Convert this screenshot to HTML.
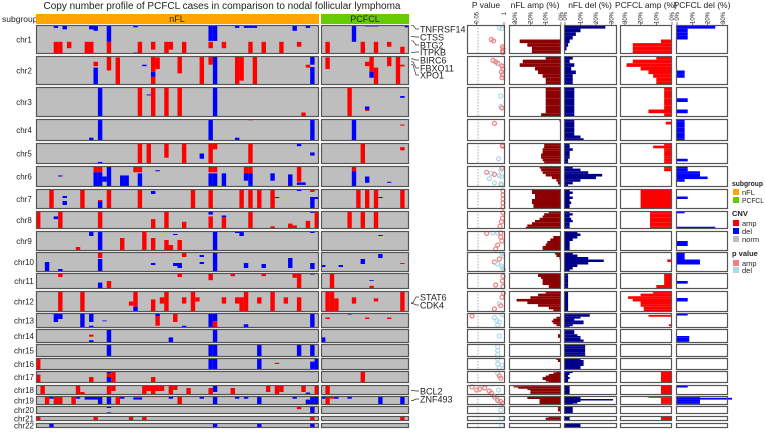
<!DOCTYPE html>
<html><head><meta charset="utf-8"><style>
html,body{margin:0;padding:0;background:#fff;}
svg{display:block;font-family:"Liberation Sans",sans-serif;}
</style></head><body>
<svg id="chart" width="765" height="432" viewBox="0 0 765 432" xmlns="http://www.w3.org/2000/svg">
<text x="222" y="9" font-size="10" text-anchor="middle" fill="#222">Copy number profile of PCFCL cases in comparison to nodal follicular lymphoma</text>
<text x="2" y="22" font-size="8.5" fill="#222">subgroup</text>
<rect x="36" y="14" width="283" height="10" fill="#FFA500"/>
<text x="177" y="22" font-size="9" text-anchor="middle" fill="#222">nFL</text>
<rect x="321" y="14" width="88" height="10" fill="#66CC00"/>
<text x="365" y="22" font-size="9" text-anchor="middle" fill="#222">PCFCL</text>
<g id="heat"></g><g id="side"></g><g id="genes"></g>
<g font-size="7.5" fill="#222">
<text x="732" y="186" font-weight="bold" textLength="31" lengthAdjust="spacingAndGlyphs">subgroup</text>
<rect x="733" y="189" width="6" height="6" fill="#FFA500"/><text x="742" y="195">nFL</text>
<rect x="733" y="197" width="6" height="6" fill="#66CC00"/><text x="742" y="203" textLength="22" lengthAdjust="spacingAndGlyphs">PCFCL</text>
<text x="732" y="216" font-weight="bold">CNV</text>
<rect x="733" y="220" width="6" height="6" fill="#FF0000"/><text x="742" y="226">amp</text>
<rect x="733" y="228" width="6" height="6" fill="#0000FF"/><text x="742" y="234">del</text>
<rect x="733" y="236" width="6" height="6" fill="#BEBEBE"/><text x="742" y="242">norm</text>
<text x="732" y="256" font-weight="bold">p value</text>
<rect x="733" y="260" width="6" height="6" fill="#F08080"/><text x="742" y="266">amp</text>
<rect x="733" y="267" width="6" height="6" fill="#ADD8E6"/><text x="742" y="273">del</text>
</g>
</svg>
<script>
const chromosomes=["chr1","chr2","chr3","chr4","chr5","chr6","chr7","chr8","chr9","chr10","chr11","chr12","chr13","chr14","chr15","chr16","chr17","chr18","chr19","chr20","chr21","chr22"];
const nflSampleCount=64, pcfclSampleCount=20;
const cnvSegments=[
[[4,0,.1,-1],[6,0,.15,-1],[12,0,.15,-1],[13,0,.2,-1],[16,0,.58,-1],[16,.58,1,1],[4,.58,1,1],[5,.58,1,1],[7,.58,.8,1],[11,.58,1,1],[12,.58,1,1],[22,0,.08,-1],[22,.95,1,-1],[23,.58,1,1],[26,.58,.85,1],[29,.58,1,1],[30,.58,.85,1],[33,.58,1,1],[39,0,.55,-1],[40,0,.55,-1],[39,.58,.8,1],[42,.58,.8,1],[45,0,.1,-1],[47,0,.1,-1],[48,0,.1,-1],[49,0,.1,-1],[48,.58,1,1],[51,.58,1,1],[55,.58,1,1],[58,0,.2,-1],[59,.58,.75,1],[61,0,.1,-1],[65,.58,1,1],[71,0,.58,-1],[73,.58,1,1],[74,0,.05,-1],[75,0,.05,-1],[76,0,.05,-1],[76,.58,1,1],[79,.58,.75,1],[82,.75,1,1],[83,0,.08,-1]],
[[13,.2,.35,1],[13,.4,1,-1],[16,0,.5,1],[18,.05,1,1],[24,.3,.35,-1],[26,0,.55,1],[26,.55,.72,-1],[26,.72,1,1],[27,.05,.45,1],[32,0,.6,1],[37,0,1,1],[39,0,.3,1],[40,0,1,-1],[45,0,1,1],[46,0,.85,1],[49,0,1,1],[61,.3,.4,1],[62,0,.3,-1],[62,.38,1,-1],[65,.05,.45,1],[74,.2,.35,1],[75,0,.55,1],[75,.55,.75,-1],[76,.4,1,1],[79,0,.35,1],[81,0,1,1],[82,.3,.36,1]],
[[14,0,1,-1],[23,0,1,1],[26,0,1,1],[29,0,1,1],[32,0,1,1],[40,0,1,-1],[60,.85,1,1],[25,.25,.28,-1],[70,0,1,1],[74,.65,.75,-1],[74,.75,.8,1],[82,.3,.36,-1]],
[[14,0,1,-1],[12,.85,1,-1],[39,0,1,-1],[45,.85,1,-1],[62,0,1,-1],[48,0,.06,1],[71,0,1,-1],[82,.25,.3,1]],
[[23,0,1,1],[25,0,1,1],[29,0,.7,1],[33,0,1,1],[37,.5,.75,-1],[39,0,1,1],[40,0,.3,1],[48,0,1,1],[59,0,.15,-1],[62,.45,.6,-1],[73,0,1,1],[82,.2,.35,1],[14,.9,.95,-1]],
[[5,.45,.5,-1],[13,0,.3,1],[14,0,.3,1],[13,.3,1,-1],[14,.3,1,-1],[15,.5,.75,-1],[16,0,1,-1],[19,.45,1,-1],[20,.45,1,-1],[22,0,.3,1],[23,0,.3,1],[23,.35,1,-1],[27,.2,.25,-1],[39,0,.3,1],[40,0,.3,1],[39,.35,1,-1],[40,.35,1,-1],[42,.35,1,-1],[47,0,.35,1],[48,0,.35,1],[47,.35,.7,-1],[48,.35,1,-1],[53,.35,.7,-1],[57,.4,1,-1],[59,0,.75,1],[59,.78,.9,-1],[60,.78,.9,-1],[71,0,.25,1],[71,.25,1,-1],[74,.5,.8,-1],[79,.75,.8,-1]],
[[3,0,1,1],[6,.35,.45,-1],[6,.6,.8,-1],[10,0,1,1],[14,.55,.62,1],[14,.62,1,-1],[16,0,1,1],[23,0,1,1],[26,.1,.25,-1],[35,0,1,1],[39,0,1,1],[46,0,1,1],[48,0,1,1],[50,0,1,1],[54,.4,.45,-1],[53,0,1,1],[59,0,.1,-1],[62,0,.15,1],[62,.4,1,-1],[63,.4,.5,-1],[72,0,1,1],[74,0,1,1],[76,0,1,1],[77,.4,.45,-1],[82,0,1,1]],
[[0,0,1,1],[5,0,1,1],[4,.3,.45,-1],[14,0,1,1],[25,0,.05,-1],[26,.45,1,1],[29,0,1,1],[33,.6,1,1],[39,0,.2,-1],[39,.3,1,1],[42,.25,.35,-1],[42,.35,1,1],[48,0,1,1],[53,.85,1,1],[57,.7,1,1],[58,.8,1,1],[62,0,.1,-1],[61,.55,1,1],[63,0,1,1],[70,0,1,1],[73,0,1,1],[76,0,1,1]],
[[12,0,.25,-1],[9,.8,1,1],[14,0,1,-1],[19,.35,1,1],[24,0,1,1],[26,.35,1,1],[29,.45,1,1],[30,.7,1,1],[32,.45,1,1],[31,.15,.2,-1],[40,0,1,-1],[45,0,.1,-1],[46,0,.25,-1],[62,0,.1,-1],[77,.2,.25,-1]],
[[2,.5,1,-1],[5,.85,.95,-1],[14,0,.3,1],[14,.35,1,-1],[26,.55,.65,-1],[33,0,.25,1],[31,.55,.7,-1],[32,.55,.8,-1],[37,.15,.25,-1],[37,.5,.6,-1],[40,0,1,-1],[47,.55,.8,-1],[51,.6,.8,-1],[57,.3,.8,-1],[62,.55,.85,-1],[64,.65,.75,-1],[68,.65,.75,-1],[73,.35,.6,-1],[77,.1,.3,-1],[82,.55,.6,1]],
[[5,0,.25,1],[16,.5,1,1],[14,.6,1,-1],[32,0,.25,1],[39,0,.45,1],[44,0,.2,1],[51,0,.2,1],[58,0,.3,1],[59,0,1,1],[66,0,1,1],[75,.45,.5,-1],[75,.8,1,1],[62,.05,.1,-1]],
[[5,0,1,1],[10,0,1,1],[14,0,.05,-1],[21,.5,.7,1],[22,0,.75,1],[22,.75,1,-1],[26,.4,1,1],[28,.3,.6,1],[29,0,1,1],[33,.3,.6,1],[35,0,1,1],[36,.3,.5,1],[42,.3,.6,1],[45,.3,.6,1],[46,.3,1,1],[47,0,1,1],[50,.3,.6,1],[53,0,1,1],[56,.3,.6,1],[59,.3,1,1],[65,0,1,1],[66,0,1,1],[67,.35,1,1],[71,.3,.6,1],[76,.35,.5,1],[82,0,1,1]],
[[4,0,.6,-1],[5,0,.4,-1],[10,0,1,-1],[12,0,.6,-1],[12,.85,1,-1],[15,.5,.55,-1],[27,0,.2,-1],[27,.2,.85,1],[31,0,.6,1],[33,.85,1,-1],[39,0,1,-1],[40,0,.55,-1],[40,.55,1,1],[47,.75,1,-1],[62,0,1,-1],[65,.3,.4,1],[70,.05,.1,-1],[74,.3,.4,1],[79,.3,.4,1]],
[[12,.4,.55,1],[12,.8,1,-1],[16,0,1,-1],[30,.6,1,-1],[40,0,1,-1],[64,.6,1,-1]],
[[16,0,1,-1],[39,0,1,-1],[40,0,1,-1],[50,0,1,-1],[59,0,1,-1],[62,0,1,-1]],
[[0,0,1,1],[8,0,.05,-1],[39,0,1,-1],[40,0,1,-1],[50,0,1,-1],[54,.4,.5,1],[62,.3,1,-1],[63,0,1,-1]],
[[0,.3,1,1],[0,0,.1,-1],[16,0,.2,-1],[16,.2,.5,1],[16,.5,1,-1],[17,0,1,1],[12,.5,1,1],[26,.5,1,1],[62,0,.1,-1],[73,0,1,1]],
[[1,0,1,1],[9,0,1,1],[10,.7,1,1],[16,0,1,1],[17,0,.6,1],[24,0,1,1],[25,0,.6,1],[26,0,1,1],[27,0,.6,1],[28,0,.6,1],[30,0,1,1],[31,0,.5,1],[34,.3,1,1],[39,.3,1,1],[40,0,.7,-1],[44,.3,1,1],[52,0,.7,1],[54,0,1,1],[55,0,.7,1],[60,0,.7,1],[61,.75,1,-1],[63,0,1,1],[65,0,1,1],[82,0,.1,-1]],
[[2,0,1,1],[3,.1,.3,-1],[4,0,1,1],[5,0,1,1],[8,0,1,1],[9,.1,.3,-1],[11,0,.4,-1],[12,0,.4,-1],[13,0,.4,-1],[14,.1,1,-1],[16,.1,1,-1],[18,0,1,1],[19,.1,.3,-1],[22,0,.2,1],[23,0,.2,1],[22,.2,.4,-1],[23,.2,.4,-1],[30,.1,.3,-1],[32,0,1,1],[37,.1,.3,-1],[39,0,.1,1],[40,0,1,-1],[45,.1,.3,-1],[47,.1,.3,-1],[50,0,.1,1],[50,.1,1,-1],[58,.1,.3,-1],[61,.4,1,-1],[62,0,1,-1],[63,0,1,-1],[64,.1,.3,-1],[65,0,1,1],[66,0,.3,1],[67,.1,.3,-1],[70,.1,.3,-1],[77,0,1,-1],[82,0,1,-1]],
[[16,0,.25,-1],[16,.8,1,-1],[59,0,.4,1],[62,0,1,-1]],
[[0,0,1,1],[13,0,1,1],[21,0,1,1],[24,0,1,1],[62,0,1,1],[82,0,1,1]],
[[3,0,1,-1],[40,0,1,-1],[50,0,1,-1],[62,0,1,-1]]
];
const nflAmpPct=[[0,0,0,0,27,22,19,19],[10,25,27,17,15,12,10,10],[10,10,10,10,10,10,10,13],[1,0,0,0,0,0,0,0],[11,11,12,12,13,13,12,11],[14,13,12,10,6,3,2,1],[19,19,17,17,19,19,18,18],[8,11,12,14,17,19,22,23],[0,0,5,7,9,10,12,12],[4,3,1,0,0,0,0,0],[15,15,13,12,12,12,8,8],[10,15,20,29,22,15,8,5],[0,0,3,5,6,5,3,0],[0,0,0,2,2,0,0,0],[0,0,0,0,0,0],[3,2,0,0,0,0],[3,5,8,10,12,12,10,8],[25,31,28,22,20,20,20,20],[22,22,14,14,14,14],[2,2,0],[8,10,10],[0,0]];
const nflDelPct=[[26,10,7,5,3,2,1,0],[5,3,6,4,7,5,5,5],[6,6,6,6,6,6,6,6],[6,6,6,6,6,6,10,12],[3,3,5,3,3,3,2,2],[5,10,15,24,20,10,5,2],[3,5,3,5,3,4,3,3],[3,5,3,4,5,3,3,3],[8,10,8,5,3,3,3,3],[5,8,15,25,15,8,5,3],[2,2,2,2,2,2],[2,2,2,2,2,2],[16,16,10,6,12,12,5,3],[6,6,6,8,10,10,12,12],[13,13,13,13,13,13],[10,12,12,12,10,10],[5,3,2,3,2,2],[3,3,3,3],[10,10,31,10,8,5],[5,5],[3,3],[10,10]];
const pcfclAmpPct=[[0,0,0,0,7,25,25,25],[10,25,29,20,15,12,10,10],[5,5,5,5,5,5,15,5],[0,4,0,0,0,0,0,0],[5,12,5,5,5,5,5,5],[5,5,0,0,0,0,0,0],[20,20,20,20,20,20,20,20],[14,14,14,14,14,14,14,14],[0,0,0,0],[0,0,0,3,0,0,0,0],[5,5,5,5,5,5,10,10],[12,20,28,25,20,20,18,18],[0,15,0,0,0,0,2,0],[0,0],[0,0],[0,0],[7,7,7,7,7,7],[7,7,7,7],[15,7,7,7,7],[0,0],[7,7],[0,0]];
const pcfclDelPct=[[25,7,7,7,0,0,0,0],[0,0,0,0,5,5,0,0],[0,0,0,7,0,0,7,0],[5,5,5,5,5,5,5,5],[0,0,0,0,0,0,7,0],[7,7,15,15,20,5,0,0],[0,0,0,7,0,0,0,0],[5,0,0,0,0,0,0,25],[0,0,7,0],[5,5,5,15,15,0,0,0],[0,0,0,7,0,0],[0,0,7,0,0,0],[7,0,0,0,0,0],[0,0,0,0,8,8,8,8],[0,0],[0,0],[0,0],[7,0,0,0],[15,36,15,15,15],[0,0],[0,0],[0,0]];
const pValues=[
[[.1,.6,'d'],[.12,.8,'d'],[.5,.25,'a'],[.55,.32,'a'],[.75,.85,'a'],[.82,.9,'a'],[.9,.85,'a'],[.95,.9,'a']],
[[.15,.3,'a'],[.2,.4,'a'],[.25,.5,'a'],[.3,.7,'d'],[.35,.8,'a'],[.45,.9,'a'],[.55,.75,'a'],[.65,.85,'a'],[.75,.8,'a']],
[[.3,.7,'d'],[.65,.7,'d'],[.7,.8,'a']],
[[.2,.35,'a']],
[[.1,.85,'a'],[.15,.85,'a'],[.75,.55,'d']],
[[.1,.8,'a'],[.2,.7,'d'],[.3,.15,'a'],[.35,.25,'d'],[.4,.35,'a'],[.45,.6,'d'],[.5,.75,'d'],[.6,.2,'d'],[.8,.35,'d'],[.85,.7,'d'],[.9,.8,'d']],
[[.1,.9,'a'],[.3,.9,'a'],[.5,.9,'a'],[.7,.9,'a'],[.9,.9,'a']],
[[.1,.9,'a'],[.4,.85,'a'],[.6,.75,'a'],[.85,.65,'a']],
[[.1,.3,'d'],[.12,.15,'a'],[.1,.5,'d'],[.1,.7,'a'],[.3,.7,'a'],[.5,.8,'a'],[.7,.5,'a'],[.9,.4,'a']],
[[.1,.8,'d'],[.2,.9,'d'],[.35,.6,'a'],[.5,.35,'a'],[.6,.5,'d'],[.7,.75,'d'],[.8,.85,'d'],[.9,.95,'d']],
[[.2,.9,'a'],[.5,.85,'a'],[.75,.4,'a'],[.85,.9,'a']],
[[.1,.95,'a'],[.3,.8,'a'],[.6,.6,'d'],[.7,.7,'a'],[.85,.35,'a']],
[[.2,.03,'a'],[.1,.85,'d'],[.3,.35,'d'],[.5,.45,'d'],[.6,.6,'d'],[.8,.5,'d']],
[[.5,.6,'d']],
[[.2,.5,'d'],[.5,.5,'d'],[.8,.5,'d']],
[[.1,.5,'d'],[.5,.5,'d'],[.8,.6,'d'],[.6,.8,'d']],
[[.2,.5,'d'],[.4,.6,'a'],[.6,.7,'a']],
[[.2,.03,'a'],[.3,.12,'a'],[.4,.07,'a'],[.5,.05,'a'],[.6,.2,'a'],[.8,.25,'a'],[.5,.55,'d']],
[[.1,.35,'a'],[.3,.45,'d'],[.5,.5,'a'],[.6,.7,'a'],[.8,.85,'a']],
[[.5,.7,'d']],[[.5,.75,'d']],[[.5,.75,'d']]
];
const pctTicks=[30,20,10,0];
const pTickLabels=["0.05","1"];
const pTickValues=[0.05,1];
const geneNames=["TNFRSF14","CTSS","BTG2","ITPKB","BIRC6","FBXO11","XPO1","STAT6","CDK4","BCL2","ZNF493"];
const geneChrom=[0,0,0,0,1,1,1,11,11,17,18];
const genePos=[0.01,0.4,0.55,0.95,0.1,0.2,0.3,0.55,0.6,0.55,0.5];

// layout (not data)
const rowBox=[[25,54],[56,85],[87,117],[119,141],[143,164],[166,187],[189,209],[211,229],[231,251],[252,272],[273,289],[291,312],[313,328],[329,343],[344,357],[358,370],[371,383],[385,395],[396,405],[406,414],[416,421],[423,428]];
const NS="http://www.w3.org/2000/svg";
function mk(tag,attrs,parent){const e=document.createElementNS(NS,tag);for(const k in attrs)e.setAttribute(k,attrs[k]);parent.appendChild(e);return e;}
const nflX0=36,nflW=283,pcX0=321,pcW=88;
function sampleX(s){return s<nflSampleCount?nflX0+s*(nflW/nflSampleCount):pcX0+(s-nflSampleCount)*(pcW/pcfclSampleCount);}
function sampleW(s){return s<nflSampleCount?nflW/nflSampleCount:pcW/pcfclSampleCount;}
function rowY(c,f){const b=rowBox[c];return b[0]+f*(b[1]-b[0]);}
const heat=document.getElementById('heat'),side=document.getElementById('side');
const xNflAmp=p=>561-p*1.53, xNflDel=p=>565+p*1.55, xPcAmp=p=>672-p*1.57, xPcDel=p=>677+p*1.53;
const xP=p=>504+21*Math.log10(p);
chromosomes.forEach((chr,c)=>{
  const y0=rowBox[c][0],y1=rowBox[c][1];
  const lab=mk('text',{x:24,y:(y0+y1)/2+3,'font-size':8,'text-anchor':'middle',fill:'#222'},heat);
  lab.textContent=chr;
  
  
  [[nflX0,nflW,'nfl'],[pcX0,pcW,'pcfcl']].forEach(([x,w,g])=>{
    const r=mk('rect',{x:x,y:y0,width:w,height:y1-y0,fill:'#BEBEBE'},heat);
    
    
  });
  cnvSegments[c].forEach(sg=>{
    const r=mk('rect',{x:sampleX(sg[0]),y:rowY(c,sg[1]),width:sampleW(sg[0]),height:Math.max(0.8,rowY(c,sg[2])-rowY(c,sg[1])),fill:sg[3]>0?'#FF0000':'#0000FF'},heat);
    
    
  });
  [[nflX0,nflW],[pcX0,pcW]].forEach(([x,w])=>{mk('rect',{x:x+0.5,y:y0+0.5,width:w-1,height:y1-y0-1,fill:'none',stroke:'#555','stroke-width':1.2},heat);});
  const panels=[[467,505,'pvalue'],[509,561,'nfl-amp'],[564,617,'nfl-del'],[620,672,'pcfcl-amp'],[676,728,'pcfcl-del']];
  panels.forEach(([a,b,n])=>{
    const r=mk('rect',{x:a,y:y0,width:b-a,height:y1-y0,fill:'#fff'},side);
    
    
  });
  mk('line',{x1:478,x2:478,y1:y0,y2:y1,stroke:'#999','stroke-dasharray':'1.5,1.5','stroke-width':0.8},side);
  const profs=[[nflAmpPct,xNflAmp,561,'#8B0000'],[nflDelPct,xNflDel,565,'#00008B'],[pcfclAmpPct,xPcAmp,672,'#FF0000'],[pcfclDelPct,xPcDel,677,'#0000FF']];
  profs.forEach(([arr,fx,zero,col])=>{
    const bins=arr[c],n=bins.length;
    bins.forEach((v,i)=>{
      if(v<=0)return;
      const xa=fx(v),ya=rowY(c,i/n),yb=rowY(c,(i+1)/n);
      const r=mk('rect',{x:Math.min(xa,zero),y:ya,width:Math.abs(xa-zero),height:yb-ya,fill:col},side);
      
      
    });
  });
  pValues[c].forEach(pt=>{
    const ci=mk('circle',{cx:xP(pt[1]),cy:rowY(c,pt[0]),r:2,fill:'none',stroke:pt[2]==='a'?'#F08080':'#ADD8E6','stroke-width':1.2},side);
    
    
  });
  panels.forEach(([a,b])=>{mk('rect',{x:a+0.5,y:y0+0.5,width:b-a-1,height:y1-y0-1,fill:'none',stroke:'#555','stroke-width':1.2},side);});
});
const titles=[["P value",486],["nFL amp (%)",535],["nFL del (%)",590],["PCFCL amp (%)",646],["PCFCL del (%)",702]];
titles.forEach(([t,x])=>{
  const e=mk('text',{x:x,y:8,'font-size':8.5,'text-anchor':'middle',fill:'#222'},side);e.textContent=t;
  
  
});
[xNflAmp,xNflDel,xPcAmp,xPcDel].forEach(fx=>{
  pctTicks.forEach(v=>{
    const x=fx(v);
    const e=mk('text',{x:0,y:0,'font-size':6,'text-anchor':'end',fill:'#222',transform:`translate(${x+2},12) rotate(-90)`},side);
    e.textContent=v+'%';
    
    
    mk('line',{x1:x,x2:x,y1:22,y2:25,stroke:'#333','stroke-width':0.6},side);
  });
});
pTickValues.forEach((v,i)=>{
  const x=xP(v);
  const e=mk('text',{x:0,y:0,'font-size':6,'text-anchor':'end',fill:'#222',transform:`translate(${x+2},12) rotate(-90)`},side);
  e.textContent=pTickLabels[i];
  
  
  mk('line',{x1:x,x2:x,y1:22,y2:25,stroke:'#333','stroke-width':0.6},side);
});
const genes=document.getElementById('genes');
const labY=[29,37,45,52,60,68,75,297,305,391,399];
geneNames.forEach((g,i)=>{
  const yt=rowY(geneChrom[i],genePos[i]),yl=labY[i];
  mk('polyline',{points:`411,${yt} 413,${yt} 416,${yl} 419,${yl}`,fill:'none',stroke:'#333','stroke-width':0.7},genes);
  const e=mk('text',{x:420,y:yl+3.5,'font-size':9,fill:'#222'},genes);
  e.textContent=g;
  
  
});
</script>
</body></html>
